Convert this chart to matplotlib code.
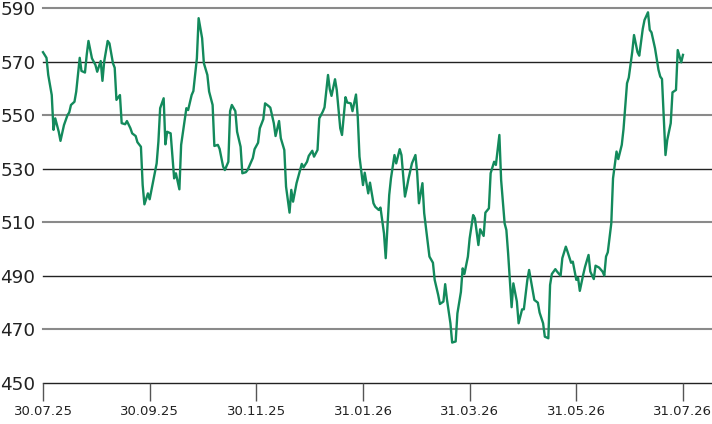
import matplotlib
matplotlib.use('Agg')
import matplotlib.pyplot as plt
import numpy as np

# session offsets (days from 30.07.25) and closing values
days = [0, 2, 3, 5, 6, 7, 9, 10, 12, 14, 15, 16, 18, 19, 21, 22, 24, 25, 26, 28,
        30, 31, 33, 34, 35, 37, 38, 40, 41, 42, 44, 45, 47, 48, 50, 51, 53, 54, 56, 57,
        58, 60, 61, 63, 65, 66, 67, 69, 70, 71, 73, 75, 76, 78, 79, 81, 82, 83, 85, 86,
        88, 89, 91, 92, 94, 95, 97, 98, 100, 101, 103, 104, 106, 107, 108, 110, 111, 113, 114, 116,
        117, 119, 120, 121, 123, 124, 126, 127, 129, 130, 132, 133, 135, 136, 138, 139, 141, 142, 143, 145,
        147, 148, 149, 151, 152, 154, 155, 157, 158, 160, 161, 163, 164, 165, 167, 168, 170, 171, 173, 174,
        176, 177, 179, 180, 181, 183, 184, 186, 187, 189, 190, 192, 193, 195, 196, 198, 199, 201, 202, 204,
        205, 207, 208, 209, 211, 213, 214, 215, 217, 218, 220, 221, 223, 224, 226, 227, 229, 230, 231, 233,
        234, 236, 237, 239, 240, 241, 243, 244, 246, 247, 249, 250, 252, 253, 255, 256, 258, 259, 261, 262,
        264, 265, 266, 268, 269, 271, 272, 274, 275, 277, 278, 280, 281, 283, 284, 286, 287, 289, 290, 291,
        293, 294, 296, 297, 299, 300, 302, 303, 305, 306, 307, 309, 310, 312, 313, 315, 316, 318, 320, 321,
        322, 323, 325, 326, 328, 329, 331, 332, 334, 335, 337, 338, 340, 341, 343, 344, 346, 347, 348, 350,
        352, 353, 354, 356, 357, 359, 360, 362, 363, 365, 366]
values = [573.5, 571.4, 565.0, 557.5, 544.5, 548.8, 543.8, 540.4, 546.3, 550.0, 551.0, 553.8, 555.0, 558.8, 571.4, 566.5, 565.9, 572.5, 577.7, 571.2,
          568.7, 566.2, 570.2, 562.8, 570.0, 577.7, 576.8, 569.4, 567.7, 555.7, 557.5, 547.0, 546.6, 547.8, 545.1, 543.2, 542.2, 539.9, 538.2, 523.9,
          516.7, 520.8, 518.6, 525.2, 532.0, 540.1, 552.6, 556.3, 539.1, 543.8, 543.2, 526.4, 528.3, 522.3, 538.9, 548.2, 552.6, 551.9, 557.5, 559.0,
          571.2, 586.2, 578.7, 569.4, 565.0, 558.8, 553.8, 538.5, 538.9, 537.4, 530.8, 529.5, 532.6, 551.5, 553.8, 551.5, 543.8, 538.2, 528.3, 528.7,
          529.5, 532.5, 534.0, 537.3, 539.7, 545.1, 548.5, 554.4, 553.4, 552.8, 547.0, 542.2, 547.8, 541.4, 537.0, 523.3, 513.6, 522.1, 517.7, 524.6,
          529.5, 531.8, 530.5, 532.6, 534.8, 536.7, 534.5, 537.0, 548.8, 551.3, 552.9, 565.0, 559.7, 557.2, 563.4, 559.4, 545.1, 542.6, 556.7, 554.7,
          554.4, 551.5, 557.7, 549.4, 534.5, 523.9, 528.5, 520.8, 524.8, 517.1, 515.8, 514.6, 515.5, 505.9, 496.6, 520.2, 526.4, 535.1, 532.0, 537.3,
          535.1, 519.6, 522.7, 526.2, 532.0, 535.1, 528.3, 517.1, 524.6, 513.4, 502.8, 497.2, 494.9, 488.5, 482.9, 479.5, 480.4, 486.9, 481.3, 472.3,
          465.1, 465.5, 476.0, 484.0, 492.8, 490.7, 497.2, 504.0, 512.7, 511.5, 501.5, 507.4, 504.9, 513.6, 515.2, 528.3, 532.6, 531.4, 542.6, 525.8,
          509.6, 507.1, 498.4, 478.3, 487.2, 480.4, 472.3, 477.5, 477.5, 488.5, 492.2, 484.7, 481.0, 480.0, 476.3, 472.3, 467.3, 466.7, 486.6, 490.7,
          492.5, 491.6, 490.0, 496.6, 500.9, 499.0, 494.9, 495.3, 488.5, 489.3, 484.4, 490.6, 493.4, 497.8, 491.6, 488.8, 493.8, 493.1, 491.6, 490.1,
          497.2, 498.8, 509.6, 526.4, 536.4, 533.6, 538.9, 544.8, 561.9, 564.0, 573.7, 579.9, 573.5, 572.2, 582.2, 585.5, 588.4, 581.8, 580.9, 575.0,
          566.9, 564.4, 563.5, 535.1, 540.7, 547.0, 558.5, 559.4, 574.3, 569.7, 572.5]

tick_labels = ['30.07.25', '30.09.25', '30.11.25', '31.01.26', '31.03.26', '31.05.26', '31.07.26']
y_levels = [450, 470, 490, 510, 530, 550, 570, 590]

plt.rcParams['font.family'] = ['DejaVu Sans']

fig = plt.figure(figsize=(7.12, 4.24), dpi=100)
axes = fig.add_axes([43 / 712, 41 / 424, 669 / 712, 375 / 424])

for s in axes.spines.values():
    s.set_visible(False)

# alternating grid: grey on 590/550/510/470, dark on the others
for v in y_levels:
    if (590 - v) % 40 == 0:
        axes.axhline(v, color='#8a8a8a', lw=1.5, clip_on=False, zorder=1)
    else:
        axes.axhline(v, color='#222222', lw=1.0, clip_on=False, zorder=1)

axes.plot(days, values, color='#138a5c', lw=1.7, solid_joinstyle='round', zorder=3, clip_on=False)

axes.set_xlim(0, 382.6)
axes.set_ylim(450, 590)

axes.set_yticks(y_levels)
axes.set_yticklabels([str(v) for v in y_levels], fontsize=13.2, color='#222222')
axes.tick_params(axis='y', length=0, pad=5.5)

axes.set_xticks(np.linspace(0, 366, len(tick_labels)))
axes.set_xticklabels(tick_labels, fontsize=9.5, color='#222222')
axes.tick_params(axis='x', length=13, width=1.0, color='#555555', pad=3)

plt.savefig('out.png', dpi=100)
